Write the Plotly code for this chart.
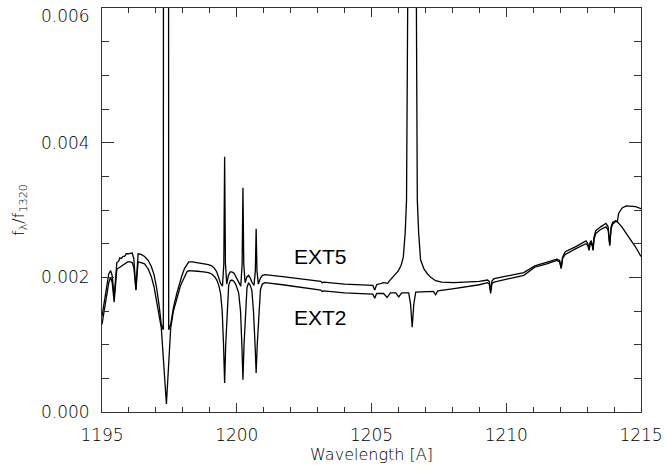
import numpy as np
import plotly.graph_objects as go

# EXT5 model spectrum: wavelength [A] and normalised flux (units of 1e-3)
ext5_wave = [
    1195.00, 1195.08, 1195.16, 1195.25, 1195.32, 1195.38, 1195.45, 1195.50, 1195.55, 1195.62,
    1195.66, 1195.72, 1195.78, 1195.84, 1195.90, 1195.96, 1196.05, 1196.12, 1196.18, 1196.22,
    1196.26, 1196.30, 1196.34, 1196.45, 1196.58, 1196.72, 1196.83, 1196.93, 1197.02, 1197.12,
    1197.20, 1197.275, 1197.28, 1197.47, 1197.475, 1197.55, 1197.65, 1197.78, 1197.90, 1197.96,
    1198.06, 1198.15, 1198.22, 1198.35, 1198.55, 1198.77, 1198.95, 1199.07, 1199.18, 1199.26,
    1199.34, 1199.40, 1199.47, 1199.52, 1199.55, 1199.58, 1199.63, 1199.69, 1199.76, 1199.82,
    1199.90, 1199.97, 1200.07, 1200.15, 1200.20, 1200.23, 1200.26, 1200.31, 1200.38, 1200.44,
    1200.50, 1200.56, 1200.64, 1200.69, 1200.72, 1200.75, 1200.80, 1200.88, 1200.95, 1201.05,
    1201.70, 1202.50, 1203.12, 1203.17, 1203.22, 1204.00, 1204.80, 1205.05, 1205.12, 1205.19,
    1205.45, 1205.56, 1205.60, 1205.65, 1205.82, 1206.00, 1206.10, 1206.18, 1206.25, 1206.30,
    1206.35, 1206.66, 1206.70, 1206.75, 1206.82, 1206.95, 1207.08, 1207.20, 1207.38, 1207.60,
    1208.05, 1208.60, 1209.00, 1209.30, 1209.37, 1209.42, 1209.47, 1209.55, 1209.80, 1210.20,
    1210.65, 1211.06, 1211.50, 1211.88, 1211.98, 1212.04, 1212.09, 1212.19, 1212.60, 1212.96,
    1213.03, 1213.07, 1213.11, 1213.15, 1213.19, 1213.22, 1213.26, 1213.32, 1213.50, 1213.70,
    1213.78, 1213.84, 1213.89, 1213.95, 1214.06, 1214.12, 1214.17, 1214.30, 1214.45, 1214.60,
    1214.80, 1215.00,
]
ext5_flux = [
    1.42, 1.62, 1.86, 2.05, 2.10, 2.02, 1.70, 2.05, 2.22, 2.24,
    2.29, 2.28, 2.31, 2.31, 2.35, 2.35, 2.36, 2.36, 2.28, 2.05,
    1.82, 2.10, 2.35, 2.34, 2.31, 2.25, 2.16, 2.04, 1.86, 1.58,
    1.30, 1.22, 6.50, 6.50, 1.22, 1.30, 1.55, 1.77, 1.95, 2.02,
    2.13, 2.19, 2.23, 2.23, 2.22, 2.20, 2.19, 2.17, 2.13, 2.08,
    1.99, 1.91, 1.87, 2.20, 3.79, 2.20, 1.90, 2.03, 2.08, 2.08,
    2.06, 2.01, 1.92, 1.87, 2.20, 3.33, 2.20, 1.92, 2.01, 2.03,
    1.99, 1.93, 1.88, 2.10, 2.72, 2.10, 1.90, 1.99, 2.03, 2.04,
    2.01, 1.97, 1.94, 1.92, 1.93, 1.90, 1.88, 1.88, 1.81, 1.89,
    1.92, 1.92, 1.91, 1.94, 2.01, 2.10, 2.18, 2.30, 2.66, 3.15,
    6.50, 6.50, 3.15, 2.66, 2.26, 2.12, 2.05, 2.00, 1.95, 1.93,
    1.92, 1.93, 1.94, 1.96, 1.94, 1.80, 1.95, 1.98, 2.00, 2.03,
    2.07, 2.17, 2.22, 2.27, 2.25, 2.14, 2.30, 2.38, 2.46, 2.54,
    2.50, 2.41, 2.52, 2.54, 2.50, 2.41, 2.60, 2.69, 2.75, 2.80,
    2.75, 2.48, 2.75, 2.82, 2.84, 2.82, 2.95, 3.03, 3.06, 3.06,
    3.05, 3.02,
]

# EXT2 model spectrum
ext2_wave = [
    1195.00, 1195.08, 1195.16, 1195.25, 1195.32, 1195.38, 1195.45, 1195.50, 1195.55, 1195.62,
    1195.70, 1195.78, 1195.86, 1195.95, 1196.05, 1196.12, 1196.18, 1196.22, 1196.26, 1196.30,
    1196.34, 1196.45, 1196.58, 1196.72, 1196.83, 1196.93, 1197.02, 1197.12, 1197.20, 1197.39,
    1197.55, 1197.65, 1197.78, 1197.90, 1197.96, 1198.06, 1198.15, 1198.22, 1198.35, 1198.55,
    1198.77, 1198.95, 1199.07, 1199.18, 1199.26, 1199.34, 1199.40, 1199.46, 1199.51, 1199.55,
    1199.59, 1199.64, 1199.70, 1199.76, 1199.82, 1199.90, 1199.97, 1200.07, 1200.14, 1200.19,
    1200.23, 1200.27, 1200.32, 1200.38, 1200.44, 1200.50, 1200.56, 1200.62, 1200.68, 1200.72,
    1200.76, 1200.82, 1200.88, 1200.95, 1201.05, 1201.70, 1202.50, 1203.12, 1203.17, 1203.22,
    1204.00, 1204.80, 1205.05, 1205.12, 1205.19, 1205.45, 1205.58, 1205.70, 1205.90, 1206.01,
    1206.12, 1206.38, 1206.45, 1206.51, 1206.57, 1206.64, 1207.00, 1207.30, 1207.38, 1207.46,
    1208.00, 1208.60, 1209.00, 1209.30, 1209.37, 1209.42, 1209.47, 1209.55, 1209.80, 1210.20,
    1210.65, 1211.06, 1211.50, 1211.88, 1211.98, 1212.04, 1212.09, 1212.19, 1212.60, 1212.96,
    1213.03, 1213.07, 1213.11, 1213.15, 1213.19, 1213.22, 1213.26, 1213.32, 1213.50, 1213.70,
    1213.78, 1213.84, 1213.89, 1213.95, 1214.06, 1214.11, 1214.20, 1214.29, 1214.42, 1214.55,
    1214.80, 1215.00,
]
ext2_flux = [
    1.30, 1.50, 1.72, 1.92, 2.00, 1.92, 1.63, 1.95, 2.12, 2.14,
    2.16, 2.18, 2.21, 2.23, 2.23, 2.22, 2.15, 2.00, 1.81, 2.05,
    2.23, 2.22, 2.20, 2.12, 2.01, 1.86, 1.67, 1.47, 1.25, 0.12,
    1.25, 1.50, 1.71, 1.86, 1.92, 2.02, 2.08, 2.10, 2.10, 2.09,
    2.08, 2.07, 2.05, 2.01, 1.96, 1.87, 1.76, 1.50, 1.00, 0.43,
    1.00, 1.50, 1.88, 1.95, 1.96, 1.94, 1.89, 1.77, 1.50, 1.00,
    0.48, 1.00, 1.50, 1.85, 1.92, 1.88, 1.81, 1.50, 1.00, 0.58,
    1.00, 1.50, 1.82, 1.90, 1.92, 1.89, 1.85, 1.81, 1.79, 1.80,
    1.77, 1.75, 1.75, 1.69, 1.76, 1.76, 1.70, 1.77, 1.77, 1.71,
    1.77, 1.77, 1.60, 1.26, 1.60, 1.78, 1.78, 1.79, 1.74, 1.80,
    1.83, 1.86, 1.89, 1.92, 1.90, 1.76, 1.91, 1.93, 1.95, 1.99,
    2.03, 2.15, 2.20, 2.25, 2.23, 2.13, 2.28, 2.34, 2.43, 2.50,
    2.47, 2.40, 2.49, 2.51, 2.47, 2.40, 2.57, 2.65, 2.71, 2.75,
    2.71, 2.47, 2.72, 2.79, 2.83, 2.83, 2.79, 2.75, 2.67, 2.60,
    2.45, 2.31,
]

flux_unit = 1e-3

# Curve labels: text, wavelength, flux (1e-3)
label_text = ["EXT5", "EXT2"]
label_wave = [1202.05, 1202.05]
label_flux = [2.31, 1.40]

x_ticks = [1195, 1200, 1205, 1210, 1215]
y_ticks = [0.000, 0.002, 0.004, 0.006]
y_tick_text = ["0.000", "0.002", "0.004", "0.006"]

fig = go.Figure()
line_style = dict(color="black", width=1.3)
fig.add_trace(go.Scatter(x=ext5_wave, y=np.array(ext5_flux) * flux_unit, mode="lines",
                         line=line_style, name="EXT5", showlegend=False))
fig.add_trace(go.Scatter(x=ext2_wave, y=np.array(ext2_flux) * flux_unit, mode="lines",
                         line=line_style, name="EXT2", showlegend=False))

for t, wx, fy in zip(label_text, label_wave, label_flux):
    fig.add_annotation(x=wx, y=fy * flux_unit, text=t, showarrow=False, xanchor="left",
                       yanchor="middle", font=dict(family="Liberation Sans, Arial", size=21, color="black"))

tick_font = dict(family="DejaVu Sans", size=17, color="black", weight=200)
axis_col = "#333"
eps = 1e-9

# the top y label sits just inside the frame, so it is placed as its own text
axis_labels = list(y_tick_text[:-1]) + [""]
fig.add_annotation(xref="paper", yref="paper", x=-0.019, y=0.98, text=y_tick_text[-1],
                   showarrow=False, xanchor="right", yanchor="middle", font=tick_font)

fig.update_xaxes(
    range=[1195 - 1e-6, 1215 + 1e-6], tickvals=x_ticks, ticktext=[str(v) for v in x_ticks],
    ticks="inside", ticklen=9, tickwidth=1, tickcolor=axis_col,
    minor=dict(ticks="inside", ticklen=5, dtick=1, tickcolor=axis_col, tickwidth=1),
    showline=True, linecolor=axis_col, linewidth=1, mirror="allticks",
    showgrid=False, zeroline=False, tickfont=tick_font, ticklabelstandoff=8,
    ticklabeloverflow="allow", automargin=False,
    title=dict(text="Wavelength [A]", font=dict(family="DejaVu Sans", size=16, color="black", weight=200), standoff=4),
)
fig.update_yaxes(
    range=[0 - eps, 0.006 + eps], tickvals=y_ticks, ticktext=axis_labels,
    ticks="inside", ticklen=12, tickwidth=1, tickcolor=axis_col,
    minor=dict(ticks="inside", ticklen=7, dtick=0.0005, tickcolor=axis_col, tickwidth=1),
    showline=True, linecolor=axis_col, linewidth=1, mirror="allticks",
    showgrid=False, zeroline=False, tickfont=tick_font, ticklabelstandoff=8,
    ticklabeloverflow="allow", automargin=False,
    title=dict(text="f<sub>λ</sub>/f<sub>1320</sub>", font=dict(family="DejaVu Sans", size=16, color="black", weight=200), standoff=12),
)

fig.update_layout(
    width=665, height=470,
    margin=dict(l=102, r=24, t=8, b=58),
    paper_bgcolor="white", plot_bgcolor="white",
    showlegend=False,
)

fig.write_html("out.html")
